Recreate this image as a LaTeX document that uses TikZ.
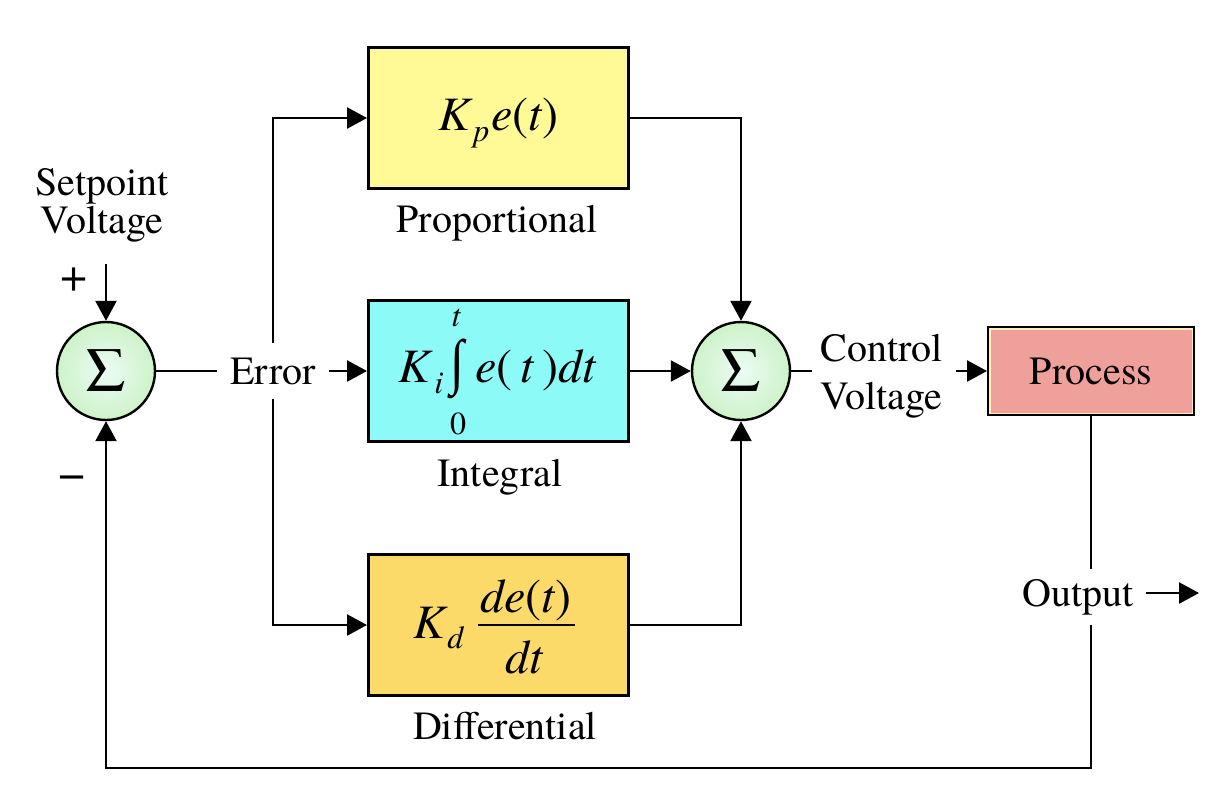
\documentclass[tikz,border=0pt]{standalone}
\usepackage{fontspec}
\setmainfont{texgyretermes}[Extension=.otf, UprightFont=*-regular, BoldFont=*-bold, ItalicFont=*-italic, BoldItalicFont=*-bolditalic]
\newfontfamily\intfont{Liberation Serif}
\usetikzlibrary{arrows.meta}
\definecolor{cP}{RGB}{255,250,150}
\definecolor{cI}{RGB}{140,250,246}
\definecolor{cD}{RGB}{252,218,106}
\definecolor{cPr}{RGB}{239,160,155}
\definecolor{cPrIn}{RGB}{255,240,190}
\definecolor{cSumO}{RGB}{205,242,200}
\definecolor{cSumI}{RGB}{235,252,245}
\begin{document}
\begin{tikzpicture}[x=0.5pt,y=-0.5pt,
  txt/.style={font=\fontsize{20}{24}\selectfont, inner sep=0pt},
  mth/.style={font=\fontsize{24}{24}\selectfont\itshape, inner sep=0pt, anchor=base west},
  sub/.style={font=\fontsize{16}{16}\selectfont\itshape, inner sep=0pt, anchor=base west},
  blk/.style={draw=black, line width=1.5pt, minimum width=130pt, minimum height=70.5pt, inner sep=0pt},
  sumc/.style={circle, draw=black, line width=1.2pt, minimum size=49pt, inner sep=0pt,
    inner color=cSumI, outer color=cSumO, font=\fontsize{31}{31}\selectfont\bfseries},
  ln/.style={line width=1.25pt},
  arr/.style={ln, -{Triangle[length=10pt,width=10.5pt]}},
]
\useasboundingbox (0,0) rectangle (1224,799);

% blocks
\node[blk, fill=cP] (P) at (498.5,118) {};
\node[blk, fill=cI] (I) at (498.5,371) {};
\node[blk, fill=cD] (D) at (498.5,625) {};
\node[draw=black, line width=1.5pt, fill=cPr, minimum width=102.5pt, minimum height=43.5pt,
      inner sep=0pt] (Proc) at (1091,371) {};
\draw[cPrIn, line width=0.9pt] ([shift={(1.3pt,-1.3pt)}]Proc.north west) rectangle ([shift={(-1.3pt,1.3pt)}]Proc.south east);
\node[txt] (ProcT) at (1091,371) {Process};

% summing junctions
\node[sumc] (sumL) at (106,371) {Σ};
\node[sumc] (sumR) at (741,371) {Σ};

% formulas
\node[mth] (Pk) at (438,130) {K};
\node[sub] (Pp) at (473,141) {p};
\node[mth] (Pe) at (491,130) {e\textup{(}t\textup{)}};

\node[mth] (Ik) at (398,382) {K};
\node[sub] (Ii) at (434,393) {i};
\node[inner sep=0pt, font=\fontsize{24}{24}\intfont] (Iint) at (457,369) {\scalebox{1.05}[1.27]{∫}};
\node[sub, anchor=center] (It) at (456,318) {t};
\node[sub, anchor=center, font=\fontsize{16}{16}\selectfont\upshape] (I0) at (458,424) {0};
\node[mth] (Ie) at (475,382) {e\textup{(}\,t\,\textup{)}dt};

\node[mth] (Dk) at (413,638) {K};
\node[sub] (Dd) at (447,648) {d};
\node[mth, anchor=base] (Dn) at (526,612) {de\textup{(}t\textup{)}};
\coordinate (fl) at (478,625);
\coordinate (fr) at (575,625);
\draw[line width=1.1pt] (fl) -- (fr);
\node[mth, anchor=base] (Dden) at (524,673) {dt};

% labels
\node[txt, anchor=base] (Lp) at (497,232) {Proportional};
\node[txt, anchor=base] (Li) at (500,486) {Integral};
\node[txt, anchor=base] (Ld) at (505,739) {Differential};
\node[txt, align=center, font=\fontsize{20}{19}\selectfont] (SP) at (102,205) {Setpoint\\Voltage};
\node[txt, font=\fontsize{24}{24}\selectfont] (plus) at (74,280) {+};
\node[txt, font=\fontsize{24}{24}\selectfont] (minus) at (72,483) {−};
\node[txt, minimum height=27.5pt, inner xsep=6.5pt, fill=white] (Err) at (273,371) {Error};
\node[txt, align=left, inner xsep=4pt, anchor=west] (CV) at (812,376) {Control\\Voltage};
\node[txt, minimum height=28pt] (Out) at (1078,597) {Output};

% connectors
\coordinate (spin) at (106,264);
\draw[arr] (spin) -- (sumL.north);
\draw[ln] (sumL.east) -- (Err.west);
\draw[arr] (Err.east) -- (I.west);
\draw[arr] (Err.north) -- (Err.north |- P.west) -- (P.west);
\draw[arr] (Err.south) -- (Err.south |- D.west) -- (D.west);
\draw[arr] (P.east) -- (P.east -| sumR) -- (sumR.north);
\draw[arr] (I.east) -- (sumR.west);
\draw[arr] (D.east) -- (D.east -| sumR) -- (sumR.south);
\draw[ln] (sumR.east) -- (CV.west |- sumR.east);
\draw[arr] ([xshift=2.5pt]CV.east |- Proc.west) -- (Proc.west);
\draw[ln] (Proc.south) -- (Proc.south |- Out.north);
\coordinate (cbr) at (1091,768);
\draw[arr] (Proc.south |- Out.south) -- (cbr) -- (cbr -| sumL) -- (sumL.south);
\coordinate (oend) at (1199,593);
\draw[arr] ([xshift=6pt]Out.east |- oend) -- (oend);
\end{tikzpicture}
\end{document}
